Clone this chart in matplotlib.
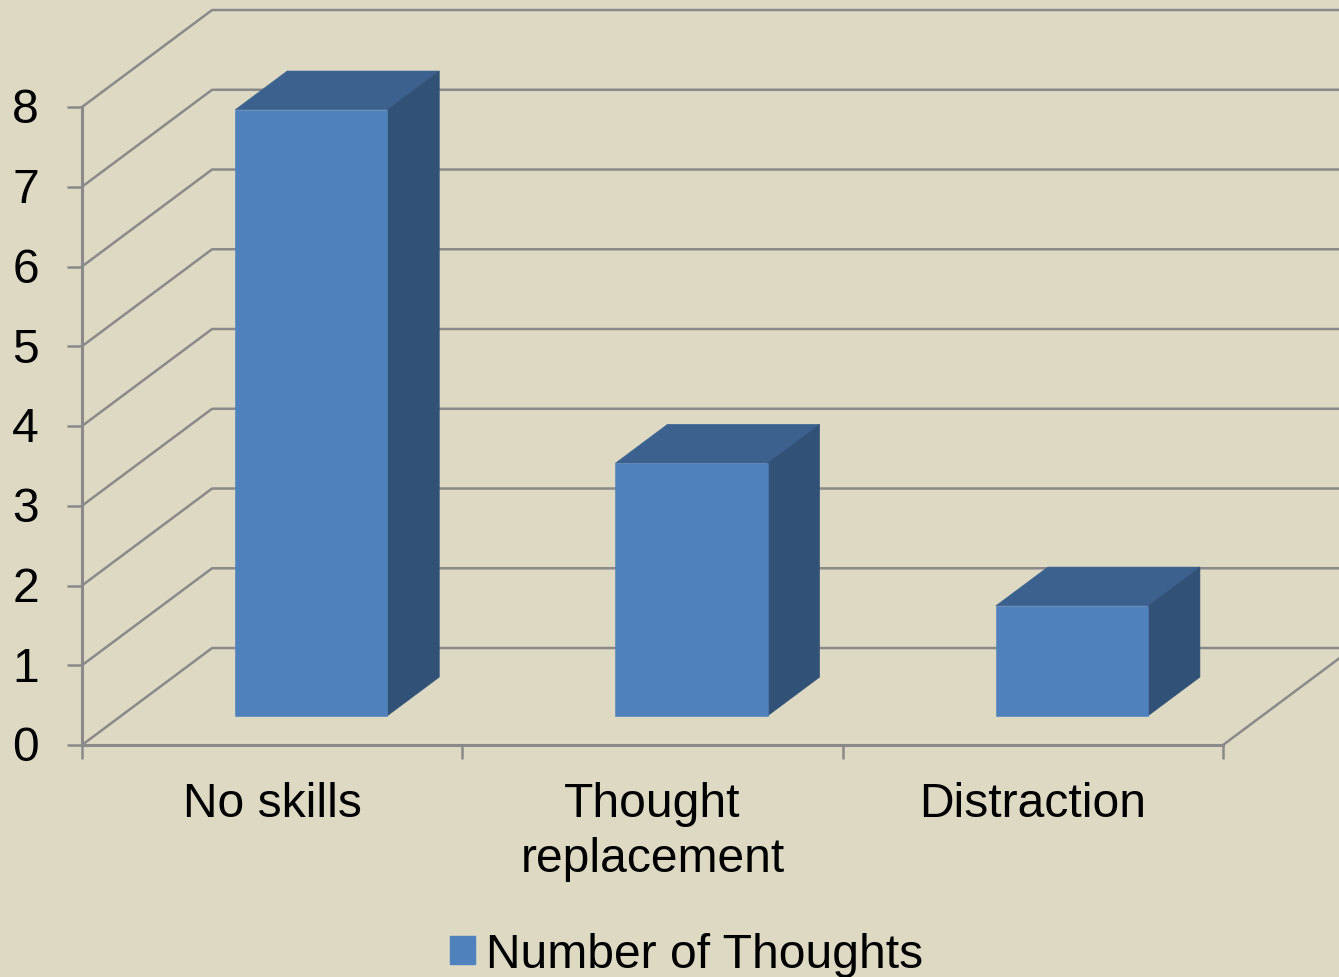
import matplotlib.pyplot as plt
from matplotlib.patches import Patch
from matplotlib.transforms import ScaledTranslation

plt.rcParams["font.family"] = ["Liberation Sans", "DejaVu Sans"]

categorias = ["No skills", "Thought\nreplacement", "Distraction"]
valores = [7.6, 3.17, 1.38]
marcas_y = [0, 1, 2, 3, 4, 5, 6, 7, 8]
serie = "Number of Thoughts"

FONDO = "#DDD9C3"
FRENTE = "#4F81BD"
TECHO = "#3C618E"
LADO = "#315177"
GRIS = "#8A8A8A"

# desplazamiento de la pared del fondo, en unidades de datos
PROF_X = 0.342
PROF_Y = 1.216
ANCHO = 0.4
PROF_INI = 0.3
PROF_FIN = 0.7
TAM_LETRA = 34.6


def proyectar(x, y, prof):
    return x + prof * PROF_X, y + prof * PROF_Y


def dibujar_barra(ax, centro, valor):
    izq, der = centro - ANCHO / 2, centro + ANCHO / 2
    caras = [
        (TECHO, [(izq, valor, PROF_INI), (der, valor, PROF_INI), (der, valor, PROF_FIN), (izq, valor, PROF_FIN)]),
        (LADO, [(der, 0, PROF_INI), (der, valor, PROF_INI), (der, valor, PROF_FIN), (der, 0, PROF_FIN)]),
        (FRENTE, [(izq, 0, PROF_INI), (der, 0, PROF_INI), (der, valor, PROF_INI), (izq, valor, PROF_INI)]),
    ]
    for color, puntos in caras:
        xs, ys = zip(*[proyectar(*p) for p in puntos])
        ax.fill(xs, ys, color=color, linewidth=0.4, zorder=3, clip_on=False)


fig = plt.figure(figsize=(13.39, 9.78), dpi=100, facecolor=FONDO)
ax = fig.add_axes([82 / 1339, 1 - 746 / 978, 1141 / 1339, 638 / 978])
ax.set_facecolor("none")
ax.set_xlim(0, len(categorias))
ax.set_ylim(0, 8)

for v in marcas_y:
    xs, ys = zip(proyectar(0, v, 0), proyectar(0, v, 1), proyectar(len(categorias), v, 1))
    ax.plot(xs, ys, color=GRIS, linewidth=1.8, zorder=1, clip_on=False)

xs, ys = zip(proyectar(len(categorias), 0, 0), proyectar(len(categorias), 0, 1))
ax.plot(xs, ys, color=GRIS, linewidth=1.8, zorder=1, clip_on=False)

for i, valor in enumerate(valores):
    dibujar_barra(ax, i + 0.5, valor)

for lado in ["top", "right"]:
    ax.spines[lado].set_visible(False)
for lado in ["left", "bottom"]:
    ax.spines[lado].set_color(GRIS)
    ax.spines[lado].set_linewidth(2.2)

ax.set_yticks(marcas_y)
ax.tick_params(axis="y", length=11, width=1.8, color=GRIS, labelsize=TAM_LETRA, pad=20)
# los numeros quedan un poco bajos respecto a la marca
subir = ScaledTranslation(0, 1.5 / 72, fig.dpi_scale_trans)
for etiqueta in ax.get_yticklabels():
    etiqueta.set_transform(etiqueta.get_transform() + subir)

ax.set_xticks(range(len(categorias) + 1))
ax.set_xticklabels([])
ax.tick_params(axis="x", which="major", length=10, width=1.8, color=GRIS)
ax.set_xticks([i + 0.5 for i in range(len(categorias))], minor=True)
ax.set_xticklabels(categorias, minor=True, fontsize=TAM_LETRA, linespacing=1.29)
ax.tick_params(axis="x", which="minor", length=0, pad=26)

fig.legend(
    handles=[Patch(color=FRENTE, label=serie)],
    loc="center",
    bbox_to_anchor=(687 / 1339, 1 - 956 / 978),
    frameon=False,
    fontsize=TAM_LETRA,
    handlelength=0.52,
    handleheight=0.52,
    handletextpad=0.23,
)

fig.savefig("out.png", dpi=100, facecolor=FONDO)
